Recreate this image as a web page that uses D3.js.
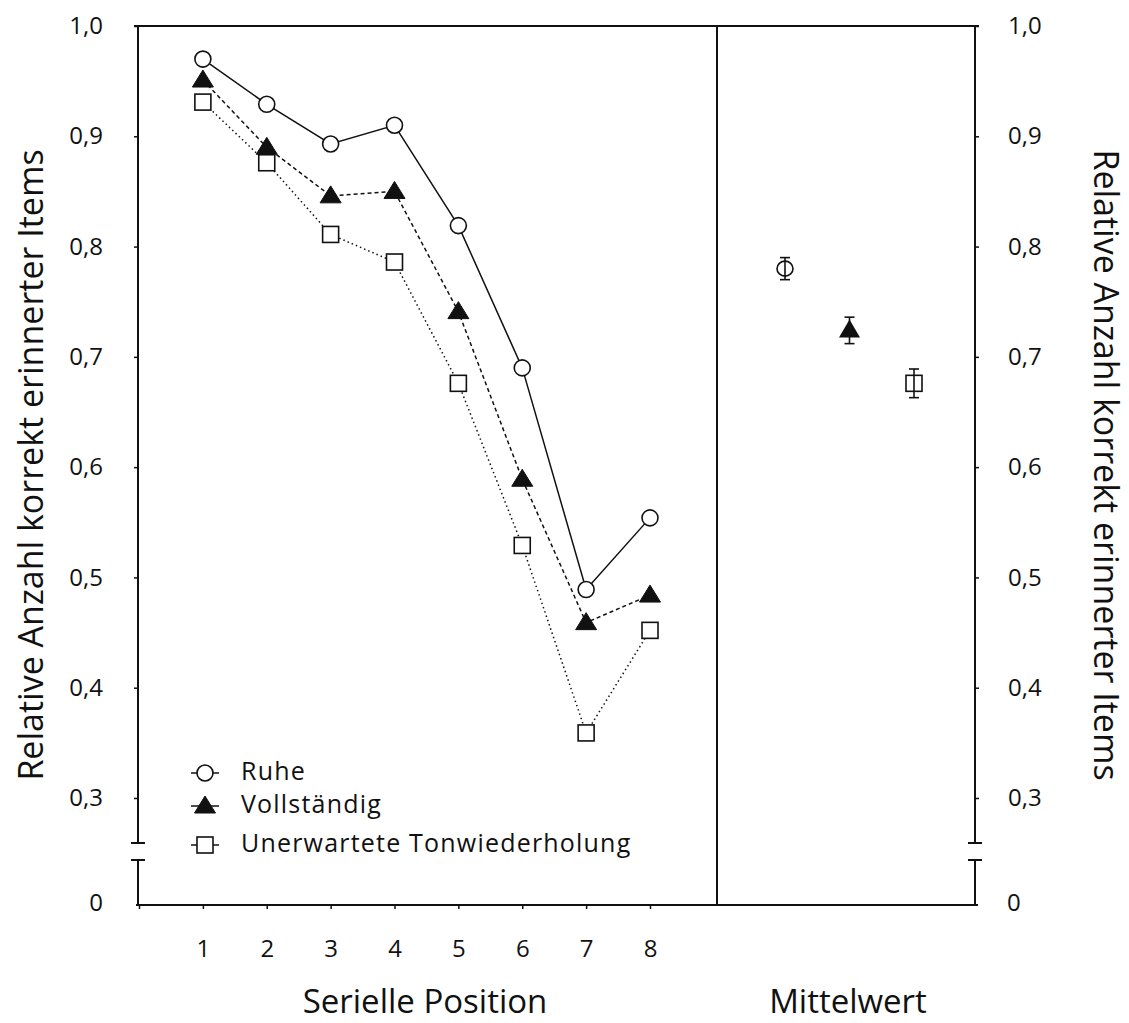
<!DOCTYPE html>
<html lang="de">
<head>
<meta charset="UTF-8">
<title>Serielle Position</title>
<style>
  body { margin: 0; background: #fff; }
  svg text { font-family: "Open Sans", Lato, sans-serif; fill: #111; }
</style>
</head>
<body>
<svg width="1129" height="1023"></svg>
<script src="https://d3js.org/d3.v7.min.js"></script>
<script>
// Daten
var positions = [1, 2, 3, 4, 5, 6, 7, 8]
var seriesNames = ["Ruhe", "Vollständig", "Unerwartete Tonwiederholung"]
var ruhe = [0.970, 0.929, 0.893, 0.910, 0.819, 0.690, 0.489, 0.554]
var vollstaendig = [0.951, 0.890, 0.846, 0.850, 0.741, 0.589, 0.459, 0.484]
var unerwartet = [0.931, 0.876, 0.811, 0.786, 0.676, 0.529, 0.359, 0.452]
var means = [0.780, 0.724, 0.676]
var meanErr = [0.010, 0.012, 0.013]
var yTicks = [0.3, 0.4, 0.5, 0.6, 0.7, 0.8, 0.9, 1.0]

var svg = d3.select("svg")

var leftX = 138, rightX = 975, divider = 717
var topY = 26, bottomY = 905
var breakTop = 843, breakBottom = 860

var y = d3.scaleLinear().domain([0.3, 1.0]).range([798, topY])
var x = d3.scaleLinear().domain([0, 8]).range([139, 650])
var xm = d3.scalePoint().domain(seriesNames).range([785, 914])

var fmt = function (d) { return d3.format(".1f")(d).replace(".", ",") }

// Rahmen
var frame = svg.append("g").attr("stroke", "#111").attr("stroke-width", 2).attr("fill", "none")
frame.append("line").attr("x1", leftX - 4).attr("x2", rightX + 4).attr("y1", topY).attr("y2", topY)
frame.append("line").attr("x1", leftX - 2).attr("x2", rightX + 3).attr("y1", bottomY).attr("y2", bottomY)
frame.append("line").attr("x1", divider).attr("x2", divider).attr("y1", topY).attr("y2", bottomY)
;[leftX, rightX].forEach(function (ax) {
  frame.append("line").attr("x1", ax).attr("x2", ax).attr("y1", topY).attr("y2", breakTop)
  frame.append("line").attr("x1", ax).attr("x2", ax).attr("y1", breakBottom).attr("y2", bottomY)
  frame.append("line").attr("x1", ax - 7).attr("x2", ax + 7).attr("y1", breakTop).attr("y2", breakTop)
  frame.append("line").attr("x1", ax - 7).attr("x2", ax + 7).attr("y1", breakBottom).attr("y2", breakBottom)
})

// y-Achsen
var leftAxis = d3.axisLeft(y).tickValues(yTicks).tickSize(4).tickPadding(31).tickFormat(fmt)
var rightAxis = d3.axisRight(y).tickValues(yTicks).tickSize(4).tickPadding(29).tickFormat(fmt)
;[[leftAxis, leftX], [rightAxis, rightX]].forEach(function (a) {
  var g = svg.append("g").attr("transform", "translate(" + a[1] + ",0)").call(a[0])
  g.select(".domain").remove()
  g.selectAll("line").attr("stroke", "#111").attr("stroke-width", 1.5)
  g.selectAll("text").style("font-size", "24px").attr("fill", "#111")
})
svg.append("text").attr("x", 103).attr("y", bottomY).attr("text-anchor", "end")
  .attr("dominant-baseline", "middle").style("font-size", "24px").text("0")
svg.append("text").attr("x", 1007).attr("y", bottomY).attr("text-anchor", "start")
  .attr("dominant-baseline", "middle").style("font-size", "24px").text("0")

// x-Achse
var xAxis = d3.axisBottom(x).tickValues([0].concat(positions)).tickSize(4).tickPadding(31)
  .tickFormat(function (d) { return d === 0 ? "" : d })
var gx = svg.append("g").attr("transform", "translate(0," + bottomY + ")").call(xAxis)
gx.select(".domain").remove()
gx.selectAll("line").attr("stroke", "#111").attr("stroke-width", 1.5)
gx.selectAll("text").style("font-size", "24px").attr("fill", "#111")

// Achsentitel
svg.append("text").attr("x", 425).attr("y", 1013).attr("text-anchor", "middle")
  .style("font-size", "33px").text("Serielle Position")
svg.append("text").attr("x", 848).attr("y", 1013).attr("text-anchor", "middle")
  .style("font-size", "33px").text("Mittelwert")
svg.append("text").attr("transform", "translate(43," + 465 + ") rotate(-90)").attr("text-anchor", "middle")
  .style("font-size", "34px").text("Relative Anzahl korrekt erinnerter Items")
svg.append("text").attr("transform", "translate(1094," + 465 + ") rotate(90)").attr("text-anchor", "middle")
  .style("font-size", "34px").text("Relative Anzahl korrekt erinnerter Items")

// Marker
function marker(g, type) {
  if (type === 0) {
    g.append("circle").attr("r", 8).attr("fill", "#fff").attr("stroke", "#111").attr("stroke-width", 1.6)
  } else if (type === 1) {
    g.append("path").attr("d", "M0,-10 L10.5,7 L-10.5,7 Z").attr("fill", "#111").attr("stroke", "#111").attr("stroke-width", 1)
  } else {
    g.append("rect").attr("x", -8).attr("y", -8).attr("width", 16).attr("height", 16)
      .attr("fill", "#fff").attr("stroke", "#111").attr("stroke-width", 1.6)
  }
}

var allSeries = [ruhe, vollstaendig, unerwartet]
var dashes = [null, "4,3", "1.5,3"]
var line = d3.line().x(function (d, i) { return x(positions[i]) }).y(function (d) { return y(d) })

allSeries.forEach(function (s, k) {
  svg.append("path").datum(s).attr("d", line).attr("fill", "none").attr("stroke", "#111")
    .attr("stroke-width", 1.5).attr("stroke-dasharray", dashes[k])
})
allSeries.forEach(function (s, k) {
  svg.selectAll(null).data(s).enter().append("g")
    .attr("transform", function (d, i) { return "translate(" + x(positions[i]) + "," + y(d) + ")" })
    .each(function () { marker(d3.select(this), k) })
})

// Mittelwerte mit Fehlerbalken
means.forEach(function (m, k) {
  var cx = xm(seriesNames[k])
  var g = svg.append("g").attr("stroke", "#111").attr("stroke-width", 1.6)
  g.append("line").attr("x1", cx).attr("x2", cx).attr("y1", y(m + meanErr[k])).attr("y2", y(m - meanErr[k]))
  g.append("line").attr("x1", cx - 5).attr("x2", cx + 5).attr("y1", y(m + meanErr[k])).attr("y2", y(m + meanErr[k]))
  g.append("line").attr("x1", cx - 5).attr("x2", cx + 5).attr("y1", y(m - meanErr[k])).attr("y2", y(m - meanErr[k]))
  var mk = svg.append("g").attr("transform", "translate(" + cx + "," + y(m) + ")")
  if (k === 0) {
    mk.append("ellipse").attr("rx", 8).attr("ry", 7.5).attr("fill", "none").attr("stroke", "#111").attr("stroke-width", 1.6)
  } else if (k === 1) {
    mk.append("path").attr("d", "M0,-11 L10.5,7 L-10.5,7 Z").attr("fill", "#111")
  } else {
    mk.append("rect").attr("x", -8).attr("y", -8).attr("width", 16).attr("height", 16)
      .attr("fill", "none").attr("stroke", "#111").attr("stroke-width", 1.6)
  }
})

// Legende
var legY = [773, 806, 845]
seriesNames.forEach(function (name, k) {
  var g = svg.append("g").attr("transform", "translate(205," + legY[k] + ")")
  g.append("line").attr("x1", -14).attr("x2", 14).attr("stroke", "#111").attr("stroke-width", 1.5)
  marker(g, k)
  g.append("text").attr("x", 36).attr("dominant-baseline", "middle").style("font-size", "25px")
    .style("letter-spacing", "1.2px").text(name)
})
</script>
</body>
</html>
